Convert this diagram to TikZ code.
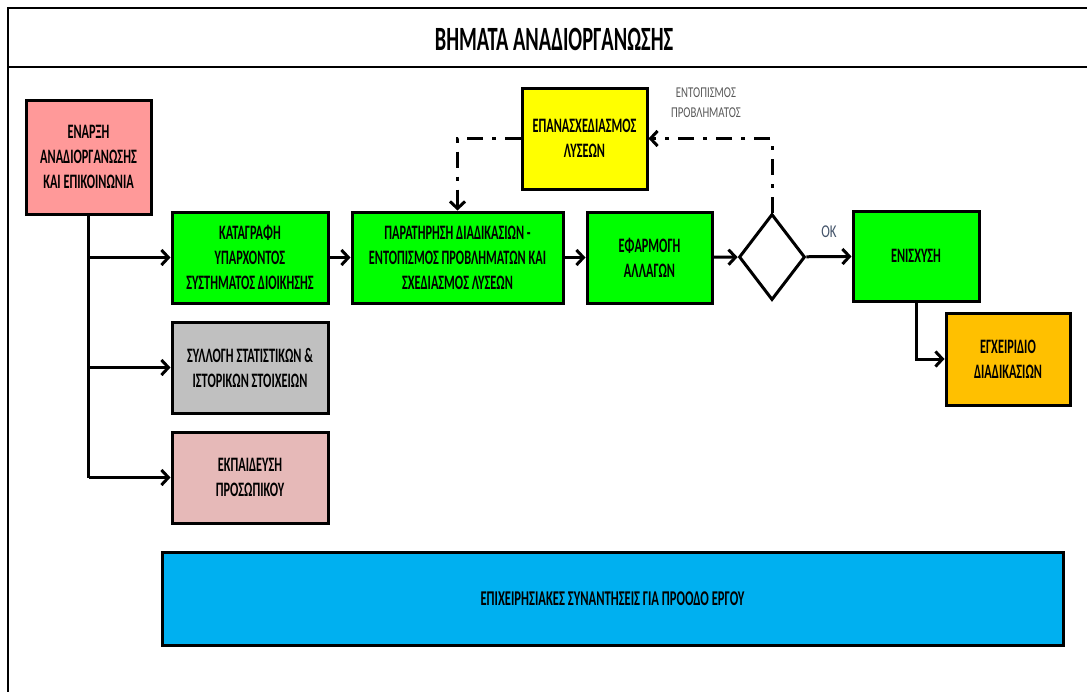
\documentclass[tikz,border=0pt]{standalone}
\usepackage{fontspec}
\setmainfont{Carlito}[FakeStretch=0.72,BoldFeatures={FakeStretch=0.60}]
\usepackage{xcolor}
\usetikzlibrary{shapes.geometric,arrows.meta}
\definecolor{startpink}{HTML}{FF9999}
\definecolor{stepgreen}{HTML}{00FF00}
\definecolor{redoyellow}{HTML}{FFFF00}
\definecolor{manualorange}{HTML}{FFC000}
\definecolor{statsgrey}{HTML}{C0C0C0}
\definecolor{trainpink}{HTML}{E6B9B8}
\definecolor{meetblue}{HTML}{00B0F0}
\definecolor{oktext}{HTML}{44546A}
\definecolor{notetext}{HTML}{595959}

\begin{document}
\begin{tikzpicture}[x=1pt,y=-1pt,
  box/.style={draw,line width=3pt,align=center,inner sep=2pt,
    font=\fontsize{20.5}{25}\selectfont\bfseries},
  conn/.style={line width=3pt,-{Straight Barb[length=7pt,width=15pt,line width=3pt]}},
  dd/.style={line width=3pt,dash pattern=on 16pt off 9pt on 4pt off 9pt,
    -{Straight Barb[length=7pt,width=15pt,line width=3pt]}}]
\useasboundingbox (0,0) rectangle (1087,691);
\clip (0,0) rectangle (1087,691);
\draw[line width=2pt] (8,720) -- (8,8) -- (1120,8);
\draw[line width=2pt] (8,67) -- (1120,67);
\node (title) at (554,39) {\fontsize{34}{36}\selectfont\bfseries ΒΗΜΑΤΑ ΑΝΑΔΙΟΡΓΑΝΩΣΗΣ};

\node [box,fill=startpink,minimum width=125,minimum height=114] (start) at (88.5,157)
  {ΕΝΑΡΞΗ\\ ΑΝΑΔΙΟΡΓΑΝΩΣΗΣ\\ ΚΑΙ ΕΠΙΚΟΙΝΩΝΙΑ};
\node [box,fill=stepgreen,minimum width=156,minimum height=91] (record) at (250,257.5)
  {ΚΑΤΑΓΡΑΦΗ\\ ΥΠΑΡΧΟΝΤΟΣ\\ ΣΥΣΤΗΜΑΤΟΣ ΔΙΟΙΚΗΣΗΣ};
\node [box,fill=stepgreen,minimum width=211,minimum height=91] (observe) at (457.5,257.5)
  {ΠΑΡΑΤΗΡΗΣΗ ΔΙΑΔΙΚΑΣΙΩΝ -\\ ΕΝΤΟΠΙΣΜΟΣ ΠΡΟΒΛΗΜΑΤΩΝ ΚΑΙ\\ ΣΧΕΔΙΑΣΜΟΣ ΛΥΣΕΩΝ};
\node [box,fill=stepgreen,minimum width=125,minimum height=91] (apply) at (649.5,257.5)
  {ΕΦΑΡΜΟΓΗ\\ ΑΛΛΑΓΩΝ};
\node [draw,diamond,line width=3pt,fill=white,inner sep=0pt,minimum width=66,minimum height=86] (check) at (772,257) {};
\node [box,fill=stepgreen,minimum width=126,minimum height=90] (strengthen) at (916,256)
  {ΕΝΙΣΧΥΣΗ};
\node [box,fill=manualorange,minimum width=124,minimum height=92] (manual) at (1008,359)
  {ΕΓΧΕΙΡΙΔΙΟ\\ ΔΙΑΔΙΚΑΣΙΩΝ};
\node [box,fill=redoyellow,minimum width=125,minimum height=101] (redesign) at (584.5,138.5)
  {ΕΠΑΝΑΣΧΕΔΙΑΣΜΟΣ\\ ΛΥΣΕΩΝ};
\node [box,fill=statsgrey,minimum width=156,minimum height=91] (stats) at (250,367.5)
  {ΣΥΛΛΟΓΗ ΣΤΑΤΙΣΤΙΚΩΝ \&\\ ΙΣΤΟΡΙΚΩΝ ΣΤΟΙΧΕΙΩΝ};
\node [box,fill=trainpink,minimum width=156,minimum height=91] (training) at (250,477.5)
  {ΕΚΠΑΙΔΕΥΣΗ\\ ΠΡΟΣΩΠΙΚΟΥ};
\node [box,fill=meetblue,minimum width=901,minimum height=93,font=\fontsize{21}{22}\selectfont\bfseries] (meetings) at (612.5,598.5)
  {ΕΠΙΧΕΙΡΗΣΙΑΚΕΣ ΣΥΝΑΝΤΗΣΕΙΣ ΓΙΑ ΠΡΟΟΔΟ ΕΡΓΟΥ};
\node [text=notetext,align=center,font=\fontsize{15}{20}\selectfont] (note) at (706,103)
  {ΕΝΤΟΠΙΣΜΟΣ\\ ΠΡΟΒΛΗΜΑΤΟΣ};

\draw[line width=3pt] (start.south) -- (start.south |- training.west);
\draw[conn] (start.south |- record.west) -- (record.west);
\draw[conn] (start.south |- stats.west) -- (stats.west);
\draw[conn] (start.south |- training.west) -- (training.west);
\draw[conn] (record) -- (observe);
\draw[conn] (observe) -- (apply);
\draw[conn] (apply) -- (check);
\draw[conn] (check) -- (strengthen)
  node (ok) [midway,above=14pt,text=oktext,font=\fontsize{18}{18}\selectfont] {OK};
\draw[conn] (strengthen.south) |- (manual.west);
\draw[dd] (check.north) |- (redesign.east);
\draw[dd] (redesign.west) -| (observe.north);
\end{tikzpicture}
\end{document}
